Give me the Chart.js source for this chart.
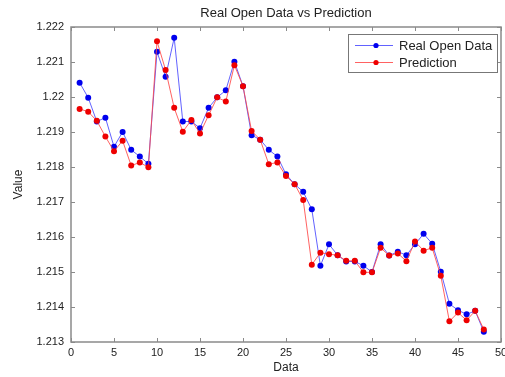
<!DOCTYPE html>
<html>
<head>
<meta charset="utf-8">
<script src="https://cdn.jsdelivr.net/npm/chart.js@4"></script>
<style>
  html, body { margin: 0; padding: 0; background: #fff; }
  #chart { display: block; }
</style>
</head>
<body>
<canvas id="chart" width="505" height="377"></canvas>
<script>
// data
const dataIndex = [1, 2, 3, 4, 5, 6, 7, 8, 9, 10, 11, 12, 13, 14, 15, 16, 17, 18, 19, 20, 21, 22, 23, 24,
                   25, 26, 27, 28, 29, 30, 31, 32, 33, 34, 35, 36, 37, 38, 39, 40, 41, 42, 43, 44, 45, 46, 47, 48];
const realOpen = [1.22041, 1.21998, 1.21930, 1.21941, 1.21858, 1.21900, 1.21849, 1.21830, 1.21809, 1.22129,
                  1.22058, 1.22169, 1.21930, 1.21930, 1.21911, 1.21969, 1.21999, 1.22019, 1.22101, 1.22031,
                  1.21891, 1.21878, 1.21849, 1.21830, 1.21779, 1.21751, 1.21729, 1.21679, 1.21518, 1.21579,
                  1.21548, 1.21530, 1.21530, 1.21518, 1.21500, 1.21579, 1.21547, 1.21558, 1.21548, 1.21579,
                  1.21609, 1.21581, 1.21501, 1.21409, 1.21391, 1.21379, 1.21389, 1.21329];
const prediction = [1.21966, 1.21958, 1.21932, 1.21887, 1.21845, 1.21875, 1.21804, 1.21813, 1.21799, 1.22159,
                    1.22077, 1.21969, 1.21901, 1.21934, 1.21896, 1.21948, 1.21999, 1.21987, 1.22091, 1.22031,
                    1.21903, 1.21878, 1.21808, 1.21813, 1.21774, 1.21751, 1.21706, 1.21521, 1.21555, 1.21551,
                    1.21548, 1.21532, 1.21532, 1.21499, 1.21499, 1.21569, 1.21547, 1.21553, 1.21531, 1.21587,
                    1.21561, 1.21569, 1.21489, 1.21359, 1.21384, 1.21362, 1.21389, 1.21336];
const xTicks = [0, 5, 10, 15, 20, 25, 30, 35, 40, 45, 50];
const yTicks = [1.213, 1.214, 1.215, 1.216, 1.217, 1.218, 1.219, 1.22, 1.221, 1.222];

const FONT = "'Liberation Sans', Arial, Helvetica, sans-serif";
const AXIS = "#8a8a8a";

const toPoints = vals => vals.map((v, i) => ({ x: dataIndex[i], y: v }));

// matlab style box, inward ticks and legend
const matlabFrame = {
    id: "matlabFrame",
    afterDraw(chart) {
        const { ctx, chartArea: a, scales } = chart;
        ctx.save();
        ctx.strokeStyle = AXIS;
        ctx.lineWidth = 1.5;
        ctx.strokeRect(a.left, a.top, a.right - a.left, a.bottom - a.top);

        ctx.lineWidth = 1;
        ctx.beginPath();
        xTicks.forEach(t => {
            const px = Math.round(scales.x.getPixelForValue(t)) + 0.5;
            ctx.moveTo(px, a.bottom); ctx.lineTo(px, a.bottom - 4);
            ctx.moveTo(px, a.top); ctx.lineTo(px, a.top + 4);
        });
        yTicks.forEach(t => {
            const py = Math.round(scales.y.getPixelForValue(t)) + 0.5;
            ctx.moveTo(a.left, py); ctx.lineTo(a.left + 4, py);
            ctx.moveTo(a.right, py); ctx.lineTo(a.right - 4, py);
        });
        ctx.stroke();

        // legend
        const box = { x: 348, y: 34, w: 149, h: 38 };
        ctx.fillStyle = "#fff";
        ctx.fillRect(box.x, box.y, box.w, box.h);
        ctx.strokeStyle = "#777";
        ctx.strokeRect(box.x + 0.5, box.y + 0.5, box.w, box.h);
        ctx.font = "13px " + FONT;
        ctx.textBaseline = "middle";
        chart.data.datasets.forEach((ds, i) => {
            const y = box.y + 11 + i * 17;
            ctx.strokeStyle = ds.borderColor;
            ctx.lineWidth = 1;
            ctx.beginPath();
            ctx.moveTo(box.x + 7, y + 0.5);
            ctx.lineTo(box.x + 45, y + 0.5);
            ctx.stroke();
            ctx.fillStyle = ds.pointBackgroundColor;
            ctx.beginPath();
            ctx.arc(box.x + 28, y + 0.5, 2.6, 0, Math.PI * 2);
            ctx.fill();
            ctx.fillStyle = "#222";
            ctx.fillText(ds.label, box.x + 51, y + 1);
        });
        ctx.restore();
    }
};

new Chart(document.getElementById("chart"), {
    type: "line",
    data: {
        datasets: [
            {
                label: "Real Open Data",
                data: toPoints(realOpen),
                borderColor: "rgba(70,70,255,0.85)",
                backgroundColor: "#0000ee",
                pointBackgroundColor: "#0000ee",
                pointBorderWidth: 0,
                pointRadius: 3,
                borderWidth: 1,
                order: 2
            },
            {
                label: "Prediction",
                data: toPoints(prediction),
                borderColor: "rgba(255,70,70,0.85)",
                backgroundColor: "#ee0000",
                pointBackgroundColor: "#ee0000",
                pointBorderWidth: 0,
                pointRadius: 3,
                borderWidth: 1,
                order: 1
            }
        ]
    },
    options: {
        responsive: false,
        animation: false,
        devicePixelRatio: 1,
        layout: { padding: { top: 0, right: 2, left: 0, bottom: 0 } },
        plugins: {
            legend: { display: false },
            tooltip: { enabled: false },
            title: {
                display: true,
                text: "Real Open Data vs Prediction",
                fullSize: false,
                color: "#222",
                font: { family: FONT, size: 13, weight: "normal" },
                padding: { top: 5.5, bottom: 5.9 }
            }
        },
        scales: {
            x: {
                type: "linear",
                min: 0,
                max: 50,
                afterBuildTicks: s => { s.ticks = xTicks.map(v => ({ value: v })); },
                afterFit: s => { s.height = 35; s.paddingLeft = 0; s.paddingRight = 0; },
                grid: { display: false, drawTicks: false },
                border: { display: false },
                ticks: { color: "#222", padding: 4, font: { family: FONT, size: 11 }, maxRotation: 0 },
                title: { display: true, text: "Data", color: "#222", padding: 2.4, font: { family: FONT, size: 12 } }
            },
            y: {
                type: "linear",
                min: 1.213,
                max: 1.222,
                afterBuildTicks: s => { s.ticks = yTicks.map(v => ({ value: v })); },
                afterFit: s => { s.width = 71; s.paddingTop = 0; s.paddingBottom = 0; },
                grid: { display: false, drawTicks: false },
                border: { display: false },
                ticks: {
                    color: "#222",
                    padding: 7,
                    font: { family: FONT, size: 11 },
                    callback: v => String(parseFloat(v.toFixed(3)))
                },
                title: { display: true, text: "Value", color: "#222", padding: 11.4, font: { family: FONT, size: 12 } }
            }
        }
    },
    plugins: [matlabFrame]
});
</script>
</body>
</html>
